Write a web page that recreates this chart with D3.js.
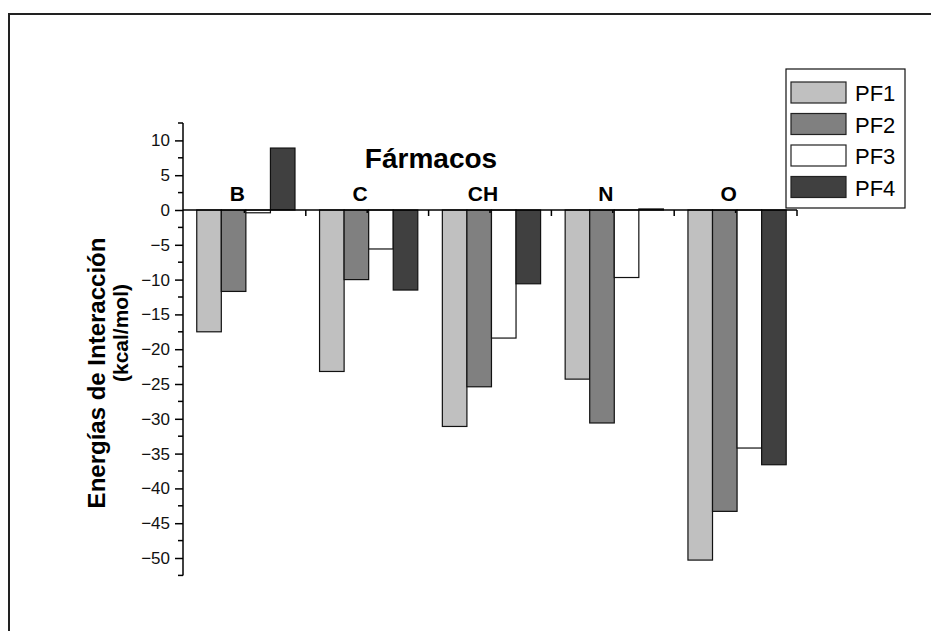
<!DOCTYPE html>
<html>
<head>
<meta charset="utf-8">
<script src="https://cdn.jsdelivr.net/npm/d3@7"></script>
<style>
  body { margin: 0; background: #fff; }
  svg { display: block; font-family: Arial, "Liberation Sans", sans-serif; }
</style>
</head>
<body>
<svg id="chart" width="931" height="631"></svg>
<script>
// data
const farmacos = ["B", "C", "CH", "N", "O"];
const series = ["PF1", "PF2", "PF3", "PF4"];
const pf1 = [-17.5, -23.2, -31.1, -24.3, -50.3];
const pf2 = [-11.7, -10.0, -25.4, -30.6, -43.3];
const pf3 = [-0.4, -5.6, -18.4, -9.7, -34.2];
const pf4 = [8.9, -11.5, -10.6, 0.15, -36.6];
const yTicks = [10, 5, 0, -5, -10, -15, -20, -25, -30, -35, -40, -45, -50];
const fills = ["#c0c0c0", "#808080", "#ffffff", "#404040"];

const values = [pf1, pf2, pf3, pf4];
const rows = farmacos.map((f, i) => ({
  name: f,
  vals: series.map((s, j) => ({ key: s, val: values[j][i] }))
}));

const svg = d3.select("#chart");

// outer frame (runs off the window on the right and bottom)
svg.append("rect")
  .attr("x", 9).attr("y", 14)
  .attr("width", 1000).attr("height", 700)
  .attr("fill", "none")
  .attr("stroke", "#222")
  .attr("stroke-width", 2);

const y = d3.scaleLinear().domain([-52.5, 12.5]).range([575.4, 123]);
const x = d3.scaleBand().domain(farmacos).range([183, 797]);
const bw = x.bandwidth();
const xs = d3.scaleBand().domain(series).range([0.112 * bw, 0.912 * bw]);
const color = d3.scaleOrdinal().domain(series).range(fills);

// bars
const grp = svg.append("g")
  .selectAll("g")
  .data(rows)
  .enter()
  .append("g")
  .attr("transform", d => `translate(${x(d.name)},0)`);

grp.selectAll("rect")
  .data(d => d.vals)
  .enter()
  .append("rect")
  .attr("x", d => xs(d.key))
  .attr("width", xs.bandwidth())
  .attr("y", d => Math.min(y(0), y(d.val)))
  .attr("height", d => Math.abs(y(d.val) - y(0)))
  .attr("fill", d => color(d.key))
  .attr("stroke", "#111")
  .attr("stroke-width", 1.2);

// y axis: major ticks with labels, minor ticks between
const minor = d3.range(-52.5, 12.6, 5);
const yAxis = svg.append("g").attr("transform", "translate(183,0)");
yAxis.call(d3.axisLeft(y).tickValues(yTicks).tickSize(8).tickPadding(5).tickFormat(d3.format("d")));
yAxis.selectAll(".tick text")
  .style("font-size", "17px")
  .style("font-family", "Arial, 'Liberation Sans', sans-serif")
  .attr("fill", "#111");
yAxis.select(".domain").attr("d", `M0,${y(12.5)}V${y(-52.5)}`).attr("stroke-width", 1.5);
yAxis.selectAll(".tick line").attr("stroke-width", 1.5);
yAxis.selectAll(".minor")
  .data(minor)
  .enter()
  .append("line")
  .attr("class", "minor")
  .attr("x1", -5).attr("x2", 0)
  .attr("y1", d => y(d)).attr("y2", d => y(d))
  .attr("stroke", "#000")
  .attr("stroke-width", 1.5);

// x axis at zero
const bounds = farmacos.map(f => x(f)).concat([x.range()[1]]);
const centers = farmacos.map(f => x(f) + bw / 2);
const xAxis = svg.append("g");
xAxis.append("line")
  .attr("x1", 183).attr("x2", 797)
  .attr("y1", y(0)).attr("y2", y(0))
  .attr("stroke", "#000").attr("stroke-width", 1.5);
xAxis.selectAll(".xmaj")
  .data(bounds.slice(1))
  .enter()
  .append("line")
  .attr("x1", d => d).attr("x2", d => d)
  .attr("y1", y(0)).attr("y2", y(0) + 6)
  .attr("stroke", "#000").attr("stroke-width", 1.5);
xAxis.selectAll(".xmin")
  .data(centers)
  .enter()
  .append("line")
  .attr("x1", d => d).attr("x2", d => d)
  .attr("y1", y(0)).attr("y2", y(0) + 3)
  .attr("stroke", "#000").attr("stroke-width", 1.5);

// category labels above the axis
svg.append("g")
  .selectAll("text")
  .data(farmacos)
  .enter()
  .append("text")
  .attr("x", d => x(d) + bw / 2 - 7)
  .attr("y", 201)
  .attr("text-anchor", "middle")
  .style("font-size", "21px")
  .style("font-weight", "bold")
  .text(d => d);

// title
svg.append("text")
  .attr("x", 431)
  .attr("y", 168)
  .attr("text-anchor", "middle")
  .style("font-size", "28px")
  .style("font-weight", "bold")
  .text("Fármacos");

// y axis title, two lines
svg.append("text")
  .attr("transform", "translate(105,373) rotate(-90)")
  .attr("text-anchor", "middle")
  .style("font-size", "24px")
  .style("font-weight", "bold")
  .text("Energías de Interacción");
svg.append("text")
  .attr("transform", "translate(128,333) rotate(-90)")
  .attr("text-anchor", "middle")
  .style("font-size", "21px")
  .style("font-weight", "bold")
  .text("(kcal/mol)");

// legend
const legend = svg.append("g");
legend.append("rect")
  .attr("x", 786).attr("y", 69)
  .attr("width", 119).attr("height", 139)
  .attr("fill", "#fff")
  .attr("stroke", "#111").attr("stroke-width", 1.2);
const li = legend.selectAll(".item")
  .data(series)
  .enter()
  .append("g")
  .attr("class", "item")
  .attr("transform", (d, i) => `translate(791,${82 + i * 31.5})`);
li.append("rect")
  .attr("width", 55).attr("height", 21)
  .attr("fill", d => color(d))
  .attr("stroke", "#222").attr("stroke-width", 1.2);
li.append("text")
  .attr("x", 64).attr("y", 19)
  .style("font-size", "22px")
  .text(d => d);
</script>
</body>
</html>
